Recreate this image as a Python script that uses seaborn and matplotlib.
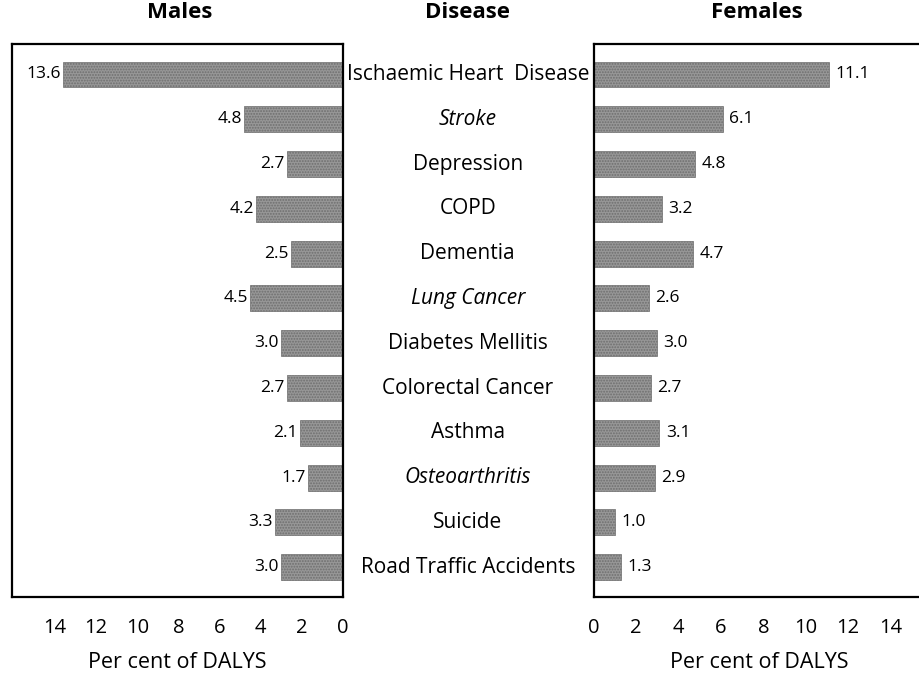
"""Butterfly chart: share of DALYs by disease, males vs females."""
import matplotlib
matplotlib.use("Agg")
import matplotlib.pyplot as plt
import matplotlib.transforms as mtransforms
import pandas as pd
import seaborn as sns

diseases = [
    "Ischaemic Heart  Disease", "Stroke", "Depression", "COPD", "Dementia",
    "Lung Cancer", "Diabetes Mellitis", "Colorectal Cancer", "Asthma",
    "Osteoarthritis", "Suicide", "Road Traffic Accidents",
]
males = [13.6, 4.8, 2.7, 4.2, 2.5, 4.5, 3.0, 2.7, 2.1, 1.7, 3.3, 3.0]
females = [11.1, 6.1, 4.8, 3.2, 4.7, 2.6, 3.0, 2.7, 3.1, 2.9, 1.0, 1.3]
italic_labels = ["Stroke", "Lung Cancer", "Osteoarthritis"]
ticks = [0, 2, 4, 6, 8, 10, 12, 14]

df = pd.DataFrame({"disease": diseases, "males": males, "females": females})

sns.set_style("white")
plt.rcParams["font.family"] = ["Open Sans", "DejaVu Sans"]
plt.rcParams["text.color"] = "black"
plt.rcParams["xtick.color"] = "black"
plt.rcParams["axes.labelcolor"] = "black"
plt.rcParams["hatch.color"] = "#4a4a4a"
plt.rcParams["hatch.linewidth"] = 0.9

fig = plt.figure(figsize=(9.19, 6.74), dpi=100)
ax_m = fig.add_axes([0.013, 0.114, 0.360, 0.820])
ax_f = fig.add_axes([0.646, 0.114, 0.360, 0.820])

bar_color = "#979797"
sns.barplot(df, x="males", y="disease", ax=ax_m, color=bar_color, width=0.58,
            orient="h", saturation=1)
sns.barplot(df, x="females", y="disease", ax=ax_f, color=bar_color, width=0.58,
            orient="h", saturation=1)

for ax in (ax_m, ax_f):
    ax.set_ylim(11.67, -0.67)
    ax.set_yticks([])
    ax.set_ylabel("")
    ax.set_xticks(ticks)
    ax.set_xticklabels([str(t) for t in ticks], fontsize=14.5)
    ax.set_xlabel("Per cent of DALYS", fontsize=15.5, labelpad=10)
    ax.tick_params(axis="x", direction="out", length=7, width=1.8, color="black", pad=8)
    for s in ax.spines.values():
        s.set_linewidth(1.6)
        s.set_color("black")
    for p in ax.patches:
        p.set_edgecolor("#6e6e6e")
        p.set_linewidth(0.5)
        p.set_hatch("......")

ax_m.set_xlim(16.1, 0)
ax_f.set_xlim(0, 15.6)
ax_f.spines["right"].set_visible(False)

for i, v in enumerate(males):
    ax_m.text(v + 0.12, i, f"{v:.1f}", ha="right", va="center", fontsize=12.5)
for i, v in enumerate(females):
    ax_f.text(v + 0.3, i, f"{v:.1f}", ha="left", va="center", fontsize=12.5)

trans = mtransforms.blended_transform_factory(fig.transFigure, ax_m.transData)
for i, name in enumerate(diseases):
    ax_m.text(0.509, i, name, transform=trans, ha="center", va="center",
              fontsize=15, clip_on=False,
              style="italic" if name in italic_labels else "normal")

fig.text(0.196, 0.981, "Males", ha="center", va="center", fontsize=16, fontweight="bold")
fig.text(0.509, 0.981, "Disease", ha="center", va="center", fontsize=16, fontweight="bold")
fig.text(0.824, 0.981, "Females", ha="center", va="center", fontsize=16, fontweight="bold")

fig.savefig("out.png", dpi=100)
